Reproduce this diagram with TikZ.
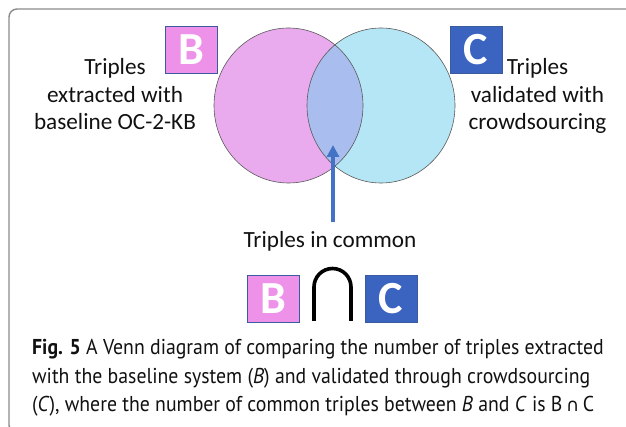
\documentclass[tikz,border=0pt]{standalone}
\usepackage{fontspec}
\usetikzlibrary{arrows.meta}
\setmainfont{Carlito}
\newfontfamily\capfont[FakeStretch=0.92]{PT Sans}
\newfontfamily\symfont{DejaVu Sans}

\definecolor{framegray}{HTML}{8A8A8A}
\definecolor{setBfill}{HTML}{E9AAEE}
\definecolor{setCfill}{HTML}{B5E6F5}
\definecolor{bothfill}{HTML}{A9BDEF}
\definecolor{rimgray}{HTML}{5A5A5A}
\definecolor{tagB}{HTML}{EE91E8}
\definecolor{tagC}{HTML}{3B64C1}
\definecolor{tagrim}{HTML}{3A5C9E}
\definecolor{arrowblue}{HTML}{4472C4}
\definecolor{ink}{HTML}{111111}

\tikzset{
  lbl/.style={inner sep=0pt, anchor=base, text=ink, font=\fontsize{23.2}{27}\selectfont},
  tag/.style={draw=tagrim, line width=0.8pt, minimum width=52pt, minimum height=47pt,
    inner sep=0pt, text=white, font=\fontsize{46}{46}\selectfont\bfseries},
  tagBbox/.style={tag, fill=tagB},
  tagCbox/.style={tag, fill=tagC},
  pointer/.style={draw=arrowblue, line width=3.2pt, -{Triangle[width=12pt,length=12pt]}},
  capline/.style={inner sep=0pt, anchor=base west, text=ink, font=\capfont\fontsize{21.5}{28}\selectfont},
}

\begin{document}
\begin{tikzpicture}[x=1pt,y=-1pt]
\useasboundingbox (0,0) rectangle (626,427);
\clip (0,0) rectangle (626,427);

% panel frame
\draw[framegray, line width=1.4pt, rounded corners=8pt] (9,9) rectangle (645,433);

% the two sets
\fill[setBfill] (288.5,105.5) ellipse [x radius=74.5pt, y radius=77.5pt];
\fill[setCfill] (381,105.5) ellipse [x radius=74pt, y radius=77.5pt];
\begin{scope}
  \clip (288.5,105.5) ellipse [x radius=74.5pt, y radius=77.5pt];
  \fill[bothfill] (381,105.5) ellipse [x radius=74pt, y radius=77.5pt];
\end{scope}
\draw[rimgray, line width=0.6pt] (288.5,105.5) ellipse [x radius=74.5pt, y radius=77.5pt];
\draw[rimgray, line width=0.6pt] (381,105.5) ellipse [x radius=74pt, y radius=77.5pt];

% set tags
\node[tagBbox] (topB) at (191,49.5) {B};
\node[tagCbox] (topC) at (476,49.5) {C};

% set descriptions
\node[lbl] (lA) at (115,75) {Triples};
\node[lbl] (lB) at (115,102.5) {extracted with};
\node[lbl] (lC) at (115,130) {baseline OC-2-KB};
\node[lbl] (rA) at (537.5,75) {Triples};
\node[lbl] (rB) at (537.5,102.5) {validated with};
\node[lbl] (rC) at (537.5,130) {crowdsourcing};

% pointer to the common part
\coordinate (tail) at (333,222);
\coordinate (tip) at (333,145);
\draw[pointer] (tail) -- (tip);
\node[lbl] (common) at (330,248) {Triples in common};

% B cap C
\node[tagBbox] (botB) at (273,298.5) {B};
\node[tagCbox] (botC) at (391,298.5) {C};
\draw[black, line width=3.6pt] (314,321) -- (314,287) arc[start angle=180, end angle=0, radius=18.5pt] -- (351,321);

% caption
\node[capline] (cap1) at (32,355) {\textbf{Fig. 5} A Venn diagram of comparing the number of triples extracted};
\node[capline] (cap2) at (32,383) {with the baseline system (\textit{B}) and validated through crowdsourcing};
\node[capline] (cap3) at (32,411) {(\textit{C}), where the number of common triples between \textit{B} and \textit{C} is B\,{\symfont\fontsize{18}{20}\selectfont ∩}\,C};
\end{tikzpicture}
\end{document}
